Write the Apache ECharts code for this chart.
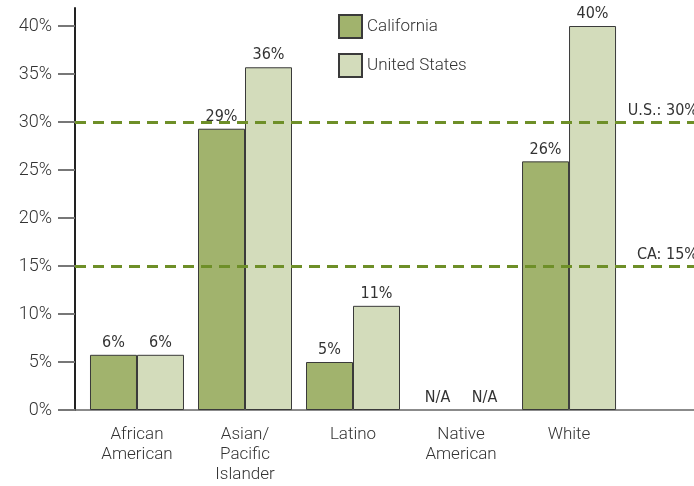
<!DOCTYPE html>
<html><head><meta charset="utf-8">
<script src="https://cdn.jsdelivr.net/npm/echarts@6/dist/echarts.min.js"></script>
<style>html,body{margin:0;padding:0;background:#fff}#c{width:694px;height:486px}</style>
</head><body><div id="c"></div>
<script>
var categories = ['African\nAmerican', 'Asian/\nPacific\nIslander', 'Latino', 'Native\nAmerican', 'White'];
var californiaValues = [5.75, 29.3, 5.0, null, 25.9];
var usValues = [5.75, 35.7, 10.85, null, 40.0];
var californiaLabels = ['6%', '29%', '5%', 'N/A', '26%'];
var usLabels = ['6%', '36%', '11%', 'N/A', '40%'];
var yTicks = [0, 5, 10, 15, 20, 25, 30, 35, 40];
var refLines = [{name: 'U.S.: 30%', value: 30}, {name: 'CA: 15%', value: 15}];

function toData(vals, labels) {
  return vals.map(function (v, i) {
    if (v == null) {
      return {value: [i, 0], label: {formatter: labels[i]}, itemStyle: {borderWidth: 0, color: 'rgba(0,0,0,0)'}};
    }
    return {value: [i, v], label: {formatter: labels[i]}};
  });
}

var labelFont = '"DejaVu Sans Condensed", "Liberation Sans Narrow", Roboto, sans-serif';
var chart = echarts.init(document.getElementById('c'));
chart.setOption({
  animation: false,
  grid: {left: 75, top: 8, right: 0, height: 402, containLabel: false},
  legend: {
    orient: 'vertical', left: 333, top: 9, itemWidth: 23, itemHeight: 23, itemGap: 14, icon: 'rect',
    textStyle: {fontSize: 17, color: '#333', fontFamily: 'Roboto, sans-serif', fontWeight: 300, padding: [0, 0, 0, 0]},
    data: ['California', 'United States']
  },
  xAxis: {
    type: 'value', min: -0.574, max: 5.157,
    axisLine: {show: true, onZero: false, lineStyle: {color: '#666', width: 1.5}},
    axisTick: {show: false},
    splitLine: {show: false},
    axisLabel: {
      customValues: [0, 1, 2, 3, 4],
      formatter: function (v) { return categories[Math.round(v)]; },
      fontSize: 17, color: '#333', lineHeight: 20, margin: 15,
      fontFamily: 'Roboto, sans-serif', fontWeight: 300
    }
  },
  yAxis: {
    type: 'value', min: 0, max: 41.875,
    axisLine: {show: true, onZero: false, lineStyle: {color: '#222', width: 2}},
    axisTick: {show: true, customValues: yTicks, length: 17, lineStyle: {color: '#777', width: 2}},
    splitLine: {show: false},
    axisLabel: {
      customValues: yTicks,
      formatter: function (v) { return v + '%'; },
      fontSize: 18, color: '#333', margin: 23,
      fontFamily: 'Roboto, sans-serif', fontWeight: 300
    }
  },
  series: [
    {
      name: 'California', type: 'bar', barWidth: 47, barGap: '0%',
      itemStyle: {color: '#a1b36d', borderColor: '#3a3a3a', borderWidth: 1},
      label: {show: true, position: 'top', distance: 4, fontSize: 16, color: '#333', fontFamily: labelFont},
      data: toData(californiaValues, californiaLabels),
      markLine: {
        silent: true, symbol: 'none',
        lineStyle: {color: '#6e8f28', type: [11, 7], width: 3},
        label: {position: 'insideEndTop', fontSize: 16, color: '#333', fontFamily: labelFont, distance: [-4, 3],
          formatter: function (p) { return p.name; }},
        data: refLines.map(function (r) { return {name: r.name, yAxis: r.value}; })
      }
    },
    {
      name: 'United States', type: 'bar', barWidth: 47, barGap: '0%',
      itemStyle: {color: '#d3dcbb', borderColor: '#3a3a3a', borderWidth: 1},
      label: {show: true, position: 'top', distance: 4, fontSize: 16, color: '#333', fontFamily: labelFont},
      data: toData(usValues, usLabels)
    }
  ]
});
</script></body></html>
